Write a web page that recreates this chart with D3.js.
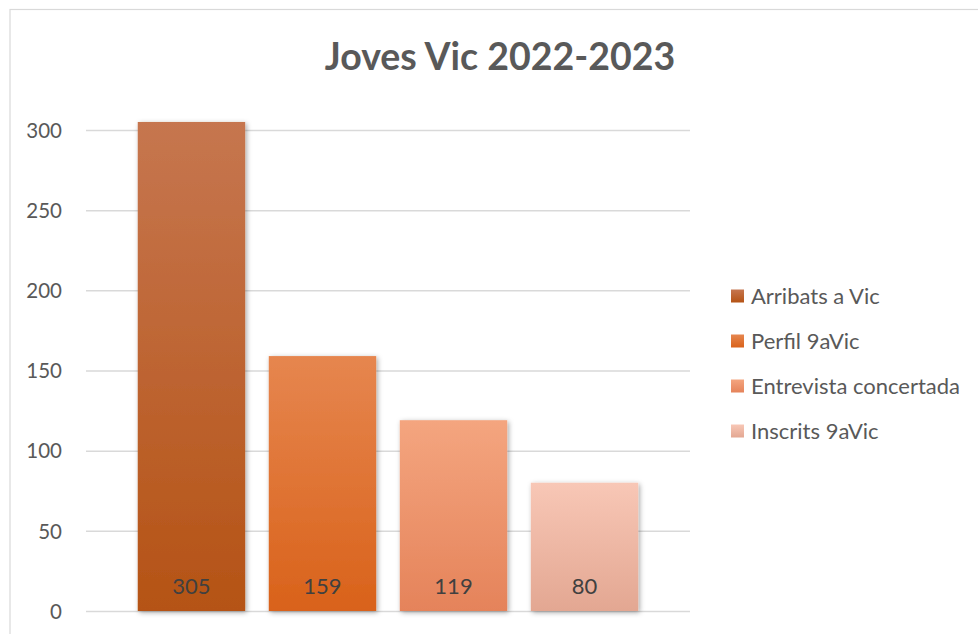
<!DOCTYPE html>
<head>
  <meta charset="utf-8">
  <script src="https://d3js.org/d3.v7.min.js"></script>
  <style>
  body { margin: 0; background: #fff; }
  text { font-family: Lato, "Open Sans", sans-serif; }
  .grid line { stroke: #d9d9d9; stroke-width: 1.5px; }
  .grid .domain { display: none; }
  .yaxis text { fill: #595959; font-size: 20.5px; }
  .yaxis .domain, .yaxis line { display: none; }
</style>
</head>
<body>
<svg width="978" height="634"></svg>

<script type="text/javascript">
// Data
var title = "Joves Vic 2022-2023";
var series = ["Arribats a Vic", "Perfil 9aVic", "Entrevista concertada", "Inscrits 9aVic"];
var values = [305, 159, 119, 80];
var yTicks = [0, 50, 100, 150, 200, 250, 300];
// gradient stops per series: top, bottom
var topColors = ["#c6764f", "#e6864f", "#f4a57f", "#f8c7b6"];
var bottomColors = ["#b55315", "#d9621a", "#e5835a", "#e3a792"];

var svg = d3.select("svg");

// chart frame (runs off the window on right and bottom)
svg.append("rect")
    .attr("x", 10).attr("y", 9.5)
    .attr("width", 1000).attr("height", 700)
    .attr("fill", "#fff")
    .attr("stroke", "#d9d9d9")
    .attr("stroke-width", 1.2);

var defs = svg.append("defs");
defs.append("filter")
    .attr("id", "shadow")
    .attr("x", "-20%").attr("y", "-10%")
    .attr("width", "140%").attr("height", "120%")
  .append("feDropShadow")
    .attr("dx", 1.5).attr("dy", 1.5)
    .attr("stdDeviation", 2.5)
    .attr("flood-color", "#000")
    .attr("flood-opacity", 0.35);

series.forEach(function(s, i) {
  var g = defs.append("linearGradient")
      .attr("id", "grad" + i)
      .attr("x1", 0).attr("y1", 0).attr("x2", 0).attr("y2", 1);
  g.append("stop").attr("offset", "0%").attr("stop-color", topColors[i]);
  g.append("stop").attr("offset", "100%").attr("stop-color", bottomColors[i]);
});

var plotLeft = 86, plotRight = 690, plotTop = 130, plotBottom = 611;

var y = d3.scaleLinear()
    .domain([0, 300])
    .range([plotBottom, plotTop]);

var x = d3.scaleBand()
    .domain(series)
    .range([plotLeft, plotRight])
    .paddingInner(0.18)
    .paddingOuter(0.395);

// gridlines
svg.append("g")
    .attr("class", "grid")
    .attr("transform", "translate(" + plotLeft + ",0)")
    .call(d3.axisLeft(y).tickValues(yTicks).tickSize(-(plotRight - plotLeft)).tickFormat(""));

// y axis labels
svg.append("g")
    .attr("class", "yaxis")
    .attr("transform", "translate(" + (plotLeft - 20) + ",0)")
    .call(d3.axisLeft(y).tickValues(yTicks).tickSize(0).tickPadding(4))
    .selectAll("text").attr("dy", "0.35em");

// bars
svg.append("g").selectAll("rect")
    .data(values)
  .enter().append("rect")
    .attr("x", function(d, i) { return x(series[i]); })
    .attr("y", function(d) { return y(d); })
    .attr("width", x.bandwidth())
    .attr("height", function(d) { return y(0) - y(d); })
    .attr("fill", function(d, i) { return "url(#grad" + i + ")"; })
    .attr("filter", "url(#shadow)");

// data labels inside bars near the base
svg.append("g").selectAll("text")
    .data(values)
  .enter().append("text")
    .attr("x", function(d, i) { return x(series[i]) + x.bandwidth() / 2; })
    .attr("y", y(0) - 17)
    .attr("text-anchor", "middle")
    .attr("fill", "#404040")
    .attr("font-size", "22px")
    .text(function(d) { return d; });

// title
svg.append("text")
    .attr("x", 500)
    .attr("y", 70)
    .attr("text-anchor", "middle")
    .attr("fill", "#595959")
    .attr("font-size", "37.5px")
    .attr("font-weight", "bold")
    .text(title);

// legend
var legend = svg.append("g").selectAll("g")
    .data(series)
  .enter().append("g")
    .attr("transform", function(d, i) { return "translate(731," + (296 + i * 45) + ")"; });

legend.append("rect")
    .attr("x", 0).attr("y", -6.5)
    .attr("width", 13).attr("height", 13)
    .attr("fill", function(d, i) { return "url(#grad" + i + ")"; });

legend.append("text")
    .attr("x", 20)
    .attr("y", 0)
    .attr("dy", "0.35em")
    .attr("fill", "#595959")
    .attr("font-size", "22px")
    .text(function(d) { return d; });
</script>

</body>
</html>
